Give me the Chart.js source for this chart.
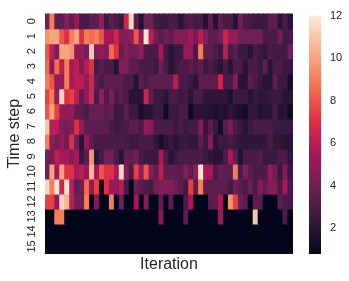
<!DOCTYPE html>
<html>
<head>
<meta charset="utf-8">
<script src="https://cdn.jsdelivr.net/npm/chart.js@4"></script>
<style>
  body { margin: 0; background: #fff; }
  #wrap { position: relative; width: 349px; height: 281px; }
  canvas { position: absolute; top: 0; }
</style>
</head>
<body>
<div id="wrap">
  <canvas id="heatmap" width="300" height="281" style="left:0"></canvas>
  <canvas id="colorbar" width="49" height="281" style="left:300px"></canvas>
</div>
<script>
const vmin = 0.8;
const vmax = 12;
const cbarTicks = [2, 4, 6, 8, 10, 12];
const rowLabels = [0, 1, 2, 3, 4, 5, 6, 7, 8, 9, 10, 11, 12, 13, 14, 15];
const iterations = Array.from({ length: 50 }, (_, i) => i);

const row0 = [4,9,3.5,3.5,4.5,3.5,5,3,3,3.5,3.5,5,2.5,3.5,3,2.5,6.5,11.5,3.5,1.8,4,4,2.8,2.5,2.5,3,3,2,3,3.3,2.8,3,1.8,3.5,1.8,3.5,3,3,1.9,4,3,2.8,2.5,2.5,2.5,3.5,3.5,2,3,2];
const row1 = [9.5,10,10,8,7,9,10,7,9,8.5,9,8,5.5,5.5,6.5,4.5,4.5,5,8,5,11.8,6,4,3.5,4,3.5,4.5,4.5,4.5,5.5,4,6,4.5,3.5,3.5,4,6.5,5,5,4,4,4,4,4,3,3,3,4,2.8,3];
const row2 = [8,6,4.5,10,10,9.5,5,5,4,11,4.5,5,4.5,8.5,7,3.5,4.5,4,4,5,3,2.8,3,5.5,2.8,2,2.5,2.5,5,5,3,9,3.5,3.5,3,2.5,6,3,3.5,2.5,2.5,2,3,2.5,2.2,3,2.7,2.7,2.7,4];
const row3 = [8.5,5,8.5,6,9,5.5,6,4.5,6,7,2.8,3.5,3,3,1.8,4.5,4.5,3.5,3.5,3,3,3,2.5,4,3,2,2.5,3,3,3.5,3,3.5,2.5,3,2.5,2,3,2,3,3,2,3,3,2.5,3.5,2,3,3,2.5,2.5];
const row4 = [9,8,5,5,9,5.5,6,6,5,6.5,3.5,3,3.5,3.5,3.5,3.5,3,3,1.8,3.5,3,3.5,3.5,3.5,3.5,3.5,6,3,3,2.5,2,3.5,3.5,3.5,3.5,6.5,3,3,4.5,2,2,3.5,3,2.5,2,2,3.5,2.5,2.5,1.5];
const row5 = [7.5,9,5,11.5,7,7.5,6,3.5,5,6.5,3,5,3.2,4.5,3,3.5,3,2,2,2,6.5,3.5,2.5,2.5,2,3,3,2.5,2.8,2,3,3,2.2,2.2,2.2,2.2,2.2,1.7,2.5,2.5,2.5,2,2.5,2.2,2.2,2.5,2.5,2.5,2,2];
const row6 = [8,10,7.5,5,5,5,3.5,3.5,3,3.8,3.8,3.8,3.5,3.8,2.5,2.5,3.5,2.5,2.5,1.5,2,2,2.5,2.5,1.3,2.5,2.5,3,3,1.2,2,2,2,1.8,1.6,1.9,1.7,2.2,1.8,1.5,1.2,2.3,2.3,1.8,2,2,2.8,1.8,2,1.2];
const row7 = [11,6,6,4.5,4,4.5,7,5,3.5,3.5,3.5,3.5,3.5,3,2.5,2.8,3,3.5,3.5,3,5,4.5,3,3,3,3,2.5,3,2.5,2.8,2.8,4.5,2.2,3.5,2.5,1.4,3.3,4.2,3,2.5,2,2.5,3,3,3,3,2.5,2.5,2.5,2.5];
const row8 = [9,5,4,5,4,7,4,2,5,3.5,3,3,3,3,3,3,2.8,2.5,2.5,3,3,3,2.2,1.5,2,2.5,2,2.5,2.5,2.2,2.2,3.5,2.5,4.5,2,2.5,2.5,2.8,2.5,2.2,2.2,2.2,2.2,2.2,2.2,3,2.2,2.2,2,2];
const row9 = [4,4,6,5.5,5.5,4.5,5.5,2.5,3.5,9.5,2,3,4,4,3,2,3.5,3.5,4,3,2.5,2.5,2.5,5.5,3,2,2.5,3,3,3,3,3,2.5,2.2,2,2,3,5.5,3.5,1.8,3,3,3,3.2,2.5,2.5,2.5,3,3,2.2];
const row10 = [4,10,5.5,10,7,7,5.5,6,5,10.5,5.5,8,7,7,5.5,11.5,4.5,3,7.5,5,8,4.5,3.5,6,3.5,3.5,3.5,3.5,4.5,3.5,5,11.8,5.5,5.5,3,3.8,3.5,3.5,9,3,4.5,3.5,3,3,3,5,4,2.5,4.5,2.5];
const row11 = [11.5,9,11.8,6.5,11.8,6,3.5,4,8.5,5,7.5,1,7,5,5,6,3,0.9,4,3.5,3,2.8,4,4.5,4.5,4.5,4,3.5,2.8,7.5,3.5,9,3.5,3.5,3.5,3.5,3.5,2.8,4,3.5,3,4,3,4.5,3.5,4.5,4.5,3,5.5,3];
const row12 = [7.5,7.5,5,11.5,10.5,6,4,4,9,0.8,4.5,0.8,0.8,9,0.8,4,0.8,0.8,5.5,0.8,4.5,0.8,0.8,3.5,0.8,3.5,0.8,0.8,3,5.5,0.8,0.8,0.8,3.5,3.5,5.5,0.8,9.5,7.5,4,3.5,0.8,3.5,3.5,0.8,0.8,0.8,3.5,3,3];
const row13 = [0.8,0.8,9,9,0.8,0.8,0.8,0.8,0.8,0.8,0.8,0.8,0.8,0.8,0.8,0.8,0.8,0.8,0.8,0.8,0.8,0.8,0.8,4.5,0.8,0.8,0.8,0.8,3.5,0.8,0.8,0.8,0.8,0.8,0.8,5,0.8,0.8,0.8,0.8,0.8,0.8,11,0.8,0.8,0.8,0.8,0.8,3,0.8];
const row14 = [0.8,0.8,0.8,0.8,0.8,0.8,0.8,0.8,0.8,0.8,0.8,0.8,0.8,0.8,0.8,0.8,0.8,0.8,0.8,0.8,0.8,0.8,0.8,0.8,0.8,0.8,0.8,0.8,0.8,0.8,0.8,0.8,0.8,0.8,0.8,0.8,0.8,0.8,0.8,0.8,0.8,0.8,0.8,0.8,0.8,0.8,0.8,0.8,0.8,0.8];
const row15 = [0.8,0.8,0.8,0.8,0.8,0.8,0.8,0.8,0.8,0.8,0.8,0.8,0.8,0.8,0.8,0.8,0.8,0.8,0.8,0.8,0.8,0.8,0.8,0.8,0.8,0.8,0.8,0.8,0.8,0.8,0.8,0.8,0.8,0.8,0.8,0.8,0.8,0.8,0.8,0.8,0.8,0.8,0.8,0.8,0.8,0.8,0.8,0.8,0.8,0.8];
const rows = [row0, row1, row2, row3, row4, row5, row6, row7, row8, row9, row10, row11, row12, row13, row14, row15];

// seaborn "rocket" colormap, sampled
const rocketStops = [
    [0, [3, 5, 26]],
    [0.14, [53, 25, 62]],
    [0.29, [112, 31, 87]],
    [0.43, [173, 23, 89]],
    [0.57, [225, 51, 66]],
    [0.71, [243, 118, 81]],
    [0.86, [246, 180, 143]],
    [1, [250, 235, 221]]
];

function rocket(t) {
    t = Math.min(1, Math.max(0, t));
    let i = 0;
    while (i < rocketStops.length - 2 && t > rocketStops[i + 1][0]) i++;
    const [t0, c0] = rocketStops[i];
    const [t1, c1] = rocketStops[i + 1];
    const f = (t - t0) / (t1 - t0);
    const c = c0.map((v, k) => Math.round(v + (c1[k] - v) * f));
    return `rgb(${c[0]}, ${c[1]}, ${c[2]})`;
}

const heatColor = v => rocket((v - vmin) / (vmax - vmin));
const textColor = '#262626';
const fontFamily = '"Liberation Sans", Arial, sans-serif';

new Chart(document.getElementById('heatmap'), {
    type: 'bar',
    data: {
        labels: iterations,
        datasets: rows.map((row, r) => ({
            label: String(rowLabels[r]),
            data: row.map(() => 1),
            backgroundColor: row.map(heatColor),
            barPercentage: 1,
            categoryPercentage: 1,
            inflateAmount: 0.6
        }))
    },
    options: {
        responsive: false,
        animation: false,
        layout: { padding: { top: 12, right: 7 } },
        plugins: { legend: { display: false }, tooltip: { enabled: false } },
        scales: {
            x: {
                stacked: true,
                grid: { display: false },
                border: { display: false },
                ticks: { display: false },
                title: {
                    display: true,
                    text: 'Iteration',
                    color: textColor,
                    padding: { top: 2, bottom: 7 },
                    font: { family: fontFamily, size: 16 }
                },
                afterFit: scale => { scale.height = 27; }
            },
            y: {
                stacked: true,
                reverse: true,
                min: 0,
                max: 16,
                grid: { display: false, drawTicks: false },
                border: { display: false },
                afterBuildTicks: scale => {
                    scale.ticks = rowLabels.map(r => ({ value: r + 0.5 }));
                },
                ticks: {
                    autoSkip: false,
                    minRotation: 90,
                    maxRotation: 90,
                    crossAlign: 'center',
                    padding: 7,
                    color: textColor,
                    font: { family: fontFamily, size: 11 },
                    callback: value => String(value - 0.5)
                },
                title: {
                    display: true,
                    text: 'Time step',
                    color: textColor,
                    padding: { top: 5, bottom: 0 },
                    font: { family: fontFamily, size: 16 }
                },
                afterFit: scale => { scale.width = 45; }
            }
        }
    }
});

new Chart(document.getElementById('colorbar'), {
    type: 'bar',
    data: {
        labels: [''],
        datasets: [{
            data: [[vmin, vmax]],
            barPercentage: 1,
            categoryPercentage: 1,
            backgroundColor: ctx => {
                const area = ctx.chart.chartArea;
                if (!area) return '#000';
                const g = ctx.chart.ctx.createLinearGradient(0, area.bottom, 0, area.top);
                rocketStops.forEach(([t, c]) => g.addColorStop(t, `rgb(${c[0]}, ${c[1]}, ${c[2]})`));
                return g;
            }
        }]
    },
    options: {
        responsive: false,
        animation: false,
        layout: { padding: { top: 12, bottom: 27, left: 9 } },
        plugins: { legend: { display: false }, tooltip: { enabled: false } },
        scales: {
            x: {
                display: false
            },
            y: {
                position: 'right',
                min: vmin,
                max: vmax,
                grid: { display: false, drawTicks: false },
                border: { display: false },
                afterBuildTicks: scale => {
                    scale.ticks = cbarTicks.map(v => ({ value: v }));
                },
                ticks: {
                    padding: 9,
                    color: textColor,
                    font: { family: fontFamily, size: 11 }
                },
                afterFit: scale => { scale.width = 28; }
            }
        }
    }
});
</script>
</body>
</html>
